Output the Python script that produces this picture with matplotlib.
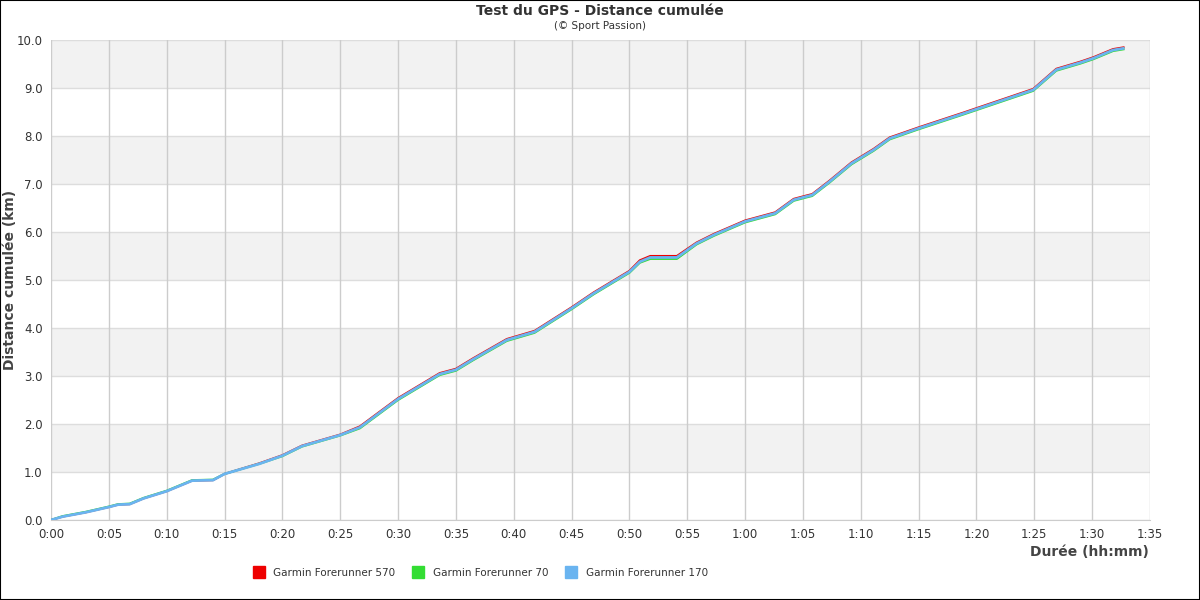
import matplotlib.pyplot as plt
from matplotlib.ticker import FuncFormatter, MultipleLocator
from matplotlib.lines import Line2D

# time in minutes
minutes = [0, 1, 3, 5, 5.8, 6.8, 8, 10, 11, 12.2, 14.0, 15, 18, 20, 21.7, 25, 26.7,
           30, 33.6, 35, 36.5, 39.4, 41.8, 45.0, 46.9, 50.0, 50.9, 51.8, 54.1, 55.8,
           57.3, 60.0, 62.6, 64.2, 65.3, 65.8, 67.3, 69.2, 71.1, 72.5, 75.0, 78.9,
           80.0, 84.9, 86.9, 89.0, 90.1, 91.8, 92.8]

fr570 = [0, 0.07, 0.16, 0.27, 0.32, 0.33, 0.45, 0.60, 0.70, 0.82, 0.83, 0.96, 1.18,
         1.35, 1.55, 1.78, 1.95, 2.54, 3.06, 3.15, 3.37, 3.77, 3.94, 4.43, 4.74, 5.19,
         5.41, 5.50, 5.50, 5.78, 5.96, 6.24, 6.41, 6.69, 6.76, 6.79, 7.07, 7.45, 7.73,
         7.97, 8.18, 8.49, 8.58, 8.98, 9.40, 9.55, 9.64, 9.81, 9.85]
fr70 = [0, 0.08, 0.17, 0.28, 0.33, 0.34, 0.46, 0.61, 0.71, 0.83, 0.84, 0.96, 1.17,
        1.33, 1.53, 1.76, 1.91, 2.50, 3.02, 3.11, 3.33, 3.73, 3.90, 4.39, 4.70, 5.15,
        5.36, 5.44, 5.44, 5.74, 5.92, 6.20, 6.37, 6.65, 6.72, 6.75, 7.03, 7.41, 7.69,
        7.93, 8.14, 8.45, 8.54, 8.94, 9.36, 9.51, 9.60, 9.77, 9.81]
fr170 = [0, 0.07, 0.16, 0.27, 0.32, 0.33, 0.45, 0.60, 0.70, 0.82, 0.83, 0.96, 1.17,
         1.34, 1.54, 1.77, 1.93, 2.52, 3.04, 3.13, 3.35, 3.75, 3.92, 4.41, 4.72, 5.17,
         5.38, 5.47, 5.47, 5.76, 5.94, 6.22, 6.39, 6.67, 6.74, 6.77, 7.05, 7.43, 7.71,
         7.95, 8.16, 8.47, 8.56, 8.96, 9.38, 9.53, 9.62, 9.79, 9.83]

series = [('Garmin Forerunner 570', fr570, '#ee0000', 1.5),
          ('Garmin Forerunner 70', fr70, '#33dd33', 1.5),
          ('Garmin Forerunner 170', fr170, '#6ab4f0', 2.0)]

fig = plt.figure(figsize=(12, 6), dpi=100)
ax = fig.add_axes([51 / 1200, 80 / 600, 1099 / 1200, 480 / 600])

# alternating bands
for k in range(1, 10, 2):
    ax.axhspan(k, k + 1, color='#f2f2f2', zorder=0, lw=0)
for y in range(0, 11):
    ax.axhline(y, color='#dddddd', lw=1, zorder=1)
for x in range(0, 96, 5):
    ax.axvline(x, color='#cccccc', lw=1, zorder=1)

for name, vals, col, lw in series:
    ax.plot(minutes, vals, color=col, lw=lw, zorder=3, solid_capstyle='butt')

ax.set_xlim(0, 95)
ax.set_ylim(0, 10)
ax.xaxis.set_major_locator(MultipleLocator(5))
ax.yaxis.set_major_locator(MultipleLocator(1))
ax.xaxis.set_major_formatter(FuncFormatter(lambda v, p: '%d:%02d' % (int(v) // 60, int(v) % 60)))
ax.yaxis.set_major_formatter(FuncFormatter(lambda v, p: '%.1f' % v))
ax.tick_params(length=0, labelsize=8.5, colors='#333333', pad=6)
for s in ax.spines.values():
    s.set_visible(False)
ax.spines['bottom'].set_visible(True)
ax.spines['bottom'].set_color('#cccccc')

fig.text(10 / 1200, 1 - 280 / 600, 'Distance cumulée (km)', ha='center', va='center',
         rotation=90, fontsize=10, fontweight='bold', color='#444444')
fig.text(1149 / 1200, 1 - 552 / 600, 'Durée (hh:mm)', ha='right', va='center',
         fontsize=10, fontweight='bold', color='#444444')

fig.text(0.5, 1 - 11 / 600, 'Test du GPS - Distance cumulée', ha='center', va='center',
         fontsize=10, fontweight='bold', color='#333333')
fig.text(0.5, 1 - 26 / 600, '(© Sport Passion)', ha='center', va='center',
         fontsize=7.5, color='#333333')

handles = [Line2D([], [], marker='s', ls='none', markersize=9, color=c) for _, _, c, _ in series]
fig.legend(handles, [s[0] for s in series], loc='center', bbox_to_anchor=(478 / 1200, 1 - 573 / 600),
           ncol=3, frameon=False, fontsize=7.5, handletextpad=0.4, columnspacing=1.2,
           labelcolor='#333333')

fig.patches.append(plt.Rectangle((0, 0), 1, 1, transform=fig.transFigure, fill=False,
                                 edgecolor='black', lw=1.5))

fig.savefig('out.png', dpi=100)
